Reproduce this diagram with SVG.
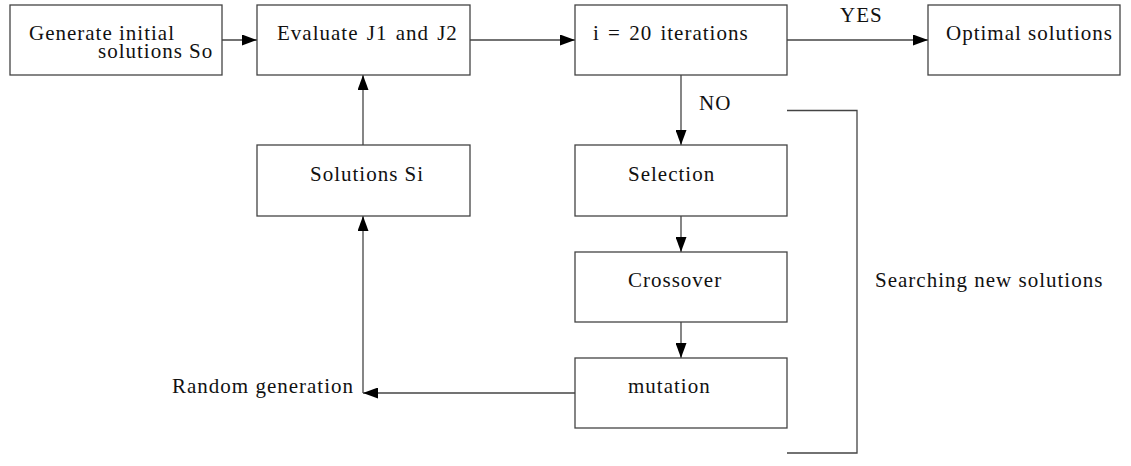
<svg xmlns="http://www.w3.org/2000/svg" width="1131" height="466" viewBox="0 0 1131 466">
<style>
.box{fill:#fff;stroke:#444;stroke-width:1.3}
.ln{fill:none;stroke:#444;stroke-width:1.3}
.t{font-size:21px;fill:#111;letter-spacing:1px}
</style>
<defs>
<marker id="ah" markerUnits="userSpaceOnUse" markerWidth="15" markerHeight="11" refX="15" refY="5.5" orient="auto">
<path d="M0,0 L15,5.5 L0,11 z" fill="#000"/>
</marker>
</defs>
<rect width="1131" height="466" fill="#fff"/>
<g font-family="Liberation Serif, serif">
<g id="connectors">
<line class="ln" x1="222" y1="40" x2="257" y2="40" marker-end="url(#ah)"/>
<line class="ln" x1="470" y1="40" x2="575" y2="40" marker-end="url(#ah)"/>
<line class="ln" x1="787" y1="40" x2="928" y2="40" marker-end="url(#ah)"/>
<line class="ln" x1="681" y1="75" x2="681" y2="145" marker-end="url(#ah)"/>
<line class="ln" x1="681" y1="216" x2="681" y2="252" marker-end="url(#ah)"/>
<line class="ln" x1="681" y1="322" x2="681" y2="358" marker-end="url(#ah)"/>
<line class="ln" x1="575" y1="393" x2="363" y2="393" marker-end="url(#ah)"/>
<line class="ln" x1="363" y1="393" x2="363" y2="216" marker-end="url(#ah)"/>
<line class="ln" x1="363" y1="145" x2="363" y2="75" marker-end="url(#ah)"/>
<polyline class="ln" points="787,110.5 857,110.5 857,453 787,453"/>
<text class="t" x="840" y="22" font-family="Liberation Serif">YES</text>
<text class="t" x="699" y="110" font-family="Liberation Serif">NO</text>
<text class="t" x="172" y="393" font-family="Liberation Serif">Random generation</text>
<text class="t" x="875" y="287" font-family="Liberation Serif">Searching new solutions</text>
</g>
<g id="n-generate">
<rect class="box" x="10" y="5" width="212" height="70"/>
<text class="t" x="29" y="39.5" font-family="Liberation Serif">Generate initial</text>
<text class="t" x="98" y="58" font-family="Liberation Serif">solutions So</text>
</g>
<g id="n-evaluate">
<rect class="box" x="257" y="5" width="213" height="70"/>
<text class="t" x="277" y="39.5" font-family="Liberation Serif" word-spacing="2">Evaluate J1 and J2</text>
</g>
<g id="n-iter">
<rect class="box" x="575" y="5" width="212" height="70"/>
<text class="t" x="593" y="39.5" font-family="Liberation Serif" word-spacing="2">i = 20 iterations</text>
</g>
<g id="n-optimal">
<rect class="box" x="928" y="5" width="192" height="70"/>
<text class="t" x="946" y="39.5" font-family="Liberation Serif">Optimal solutions</text>
</g>
<g id="n-si">
<rect class="box" x="257" y="145" width="213" height="71"/>
<text class="t" x="310" y="181" font-family="Liberation Serif">Solutions Si</text>
</g>
<g id="n-selection">
<rect class="box" x="575" y="145" width="212" height="71"/>
<text class="t" x="628" y="181" font-family="Liberation Serif">Selection</text>
</g>
<g id="n-crossover">
<rect class="box" x="575" y="252" width="212" height="70"/>
<text class="t" x="628" y="287" font-family="Liberation Serif">Crossover</text>
</g>
<g id="n-mutation">
<rect class="box" x="575" y="358" width="212" height="70"/>
<text class="t" x="628" y="393" font-family="Liberation Serif">mutation</text>
</g>
</g>
</svg>
